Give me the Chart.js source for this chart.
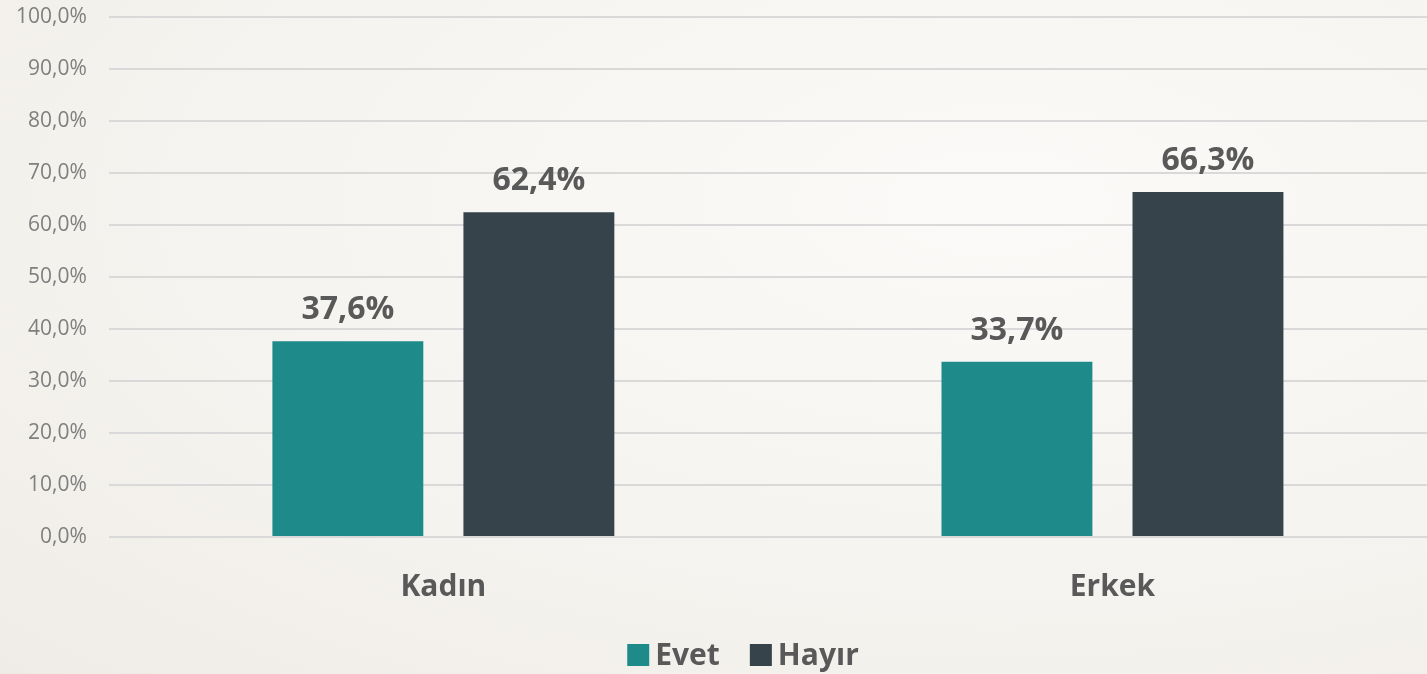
<!DOCTYPE html>
<html>
<head>
<meta charset="utf-8">
<script src="https://cdn.jsdelivr.net/npm/chart.js@4.4.1/dist/chart.umd.min.js"></script>
<style>
  html, body { margin: 0; padding: 0; overflow: hidden; width: 1427px; height: 674px; }
  body { background: radial-gradient(ellipse at 70% 30%, #fbfaf8 0%, #f5f3ef 60%, #efece6 100%); }
  #wrap { position: absolute; left: 0; top: -18px; width: 1447px; height: 692px; }
</style>
</head>
<body>
<div id="wrap"><canvas id="c" width="1447" height="692"></canvas></div>
<script>
const categories = ['Kadın', 'Erkek'];
const evetValues = [37.6, 33.7];
const hayirValues = [62.4, 66.3];
const seriesNames = ['Evet', 'Hayır'];
const seriesColors = ['#1f8a8a', '#36434b'];
const yTickMin = 0, yTickMax = 100, yTickStep = 10;

const fmt = v => v.toFixed(1).replace('.', ',') + '%';

const labelPlugin = {
  id: 'barLabels',
  afterDatasetsDraw(chart) {
    const ctx = chart.ctx;
    ctx.save();
    ctx.font = 'bold 32px "Open Sans"';
    ctx.fillStyle = '#595959';
    ctx.textAlign = 'center';
    ctx.textBaseline = 'alphabetic';
    chart.data.datasets.forEach((ds, i) => {
      chart.getDatasetMeta(i).data.forEach((bar, j) => {
        ctx.fillText(fmt(ds.data[j]), bar.x, bar.y - 22);
      });
    });
    ctx.restore();
  }
};

// custom legend drawn below the axis
const legendPlugin = {
  id: 'customLegend',
  afterDraw(chart) {
    const ctx = chart.ctx;
    ctx.save();
    ctx.font = 'bold 30px "Open Sans"';
    ctx.textBaseline = 'middle';
    ctx.textAlign = 'left';
    const box = 22, gapText = 6, gapItem = 30;
    const items = chart.data.datasets.map(ds => ({ text: ds.label, color: ds.backgroundColor, w: ctx.measureText(ds.label).width }));
    const total = items.reduce((s, it) => s + box + gapText + it.w, 0) + gapItem * (items.length - 1);
    const cy = chart.height - 19;
    let x = 743 - total / 2;
    items.forEach(it => {
      ctx.fillStyle = it.color;
      ctx.fillRect(x, cy - box / 2, box, box);
      x += box + gapText;
      ctx.fillStyle = '#595959';
      ctx.fillText(it.text, x, cy + 1);
      x += it.w + gapItem;
    });
    ctx.restore();
  }
};

new Chart(document.getElementById('c'), {
  type: 'bar',
  data: {
    labels: categories,
    datasets: [
      { label: seriesNames[0], data: evetValues, backgroundColor: seriesColors[0], categoryPercentage: 0.571, barPercentage: 0.79 },
      { label: seriesNames[1], data: hayirValues, backgroundColor: seriesColors[1], categoryPercentage: 0.571, barPercentage: 0.79 }
    ]
  },
  options: {
    responsive: false,
    animation: false,
    layout: { padding: { left: -6, top: -2, right: 0, bottom: 45 } },
    plugins: {
      tooltip: { enabled: false },
      legend: { display: false }
    },
    scales: {
      x: {
        grid: { display: false },
        border: { display: false },
        ticks: { color: '#595959', padding: 27, font: { family: 'Open Sans', size: 30, weight: 'bold', lineHeight: 1.0 } }
      },
      y: {
        min: yTickMin, max: yTickMax,
        border: { display: false },
        grid: { color: '#d9d9d9', lineWidth: 2, drawTicks: false },
        ticks: { stepSize: yTickStep, padding: 22, color: '#7f7f7f', font: { family: 'Open Sans', size: 21 }, callback: v => fmt(v) }
      }
    }
  },
  plugins: [labelPlugin, legendPlugin]
});
</script>
</body>
</html>
